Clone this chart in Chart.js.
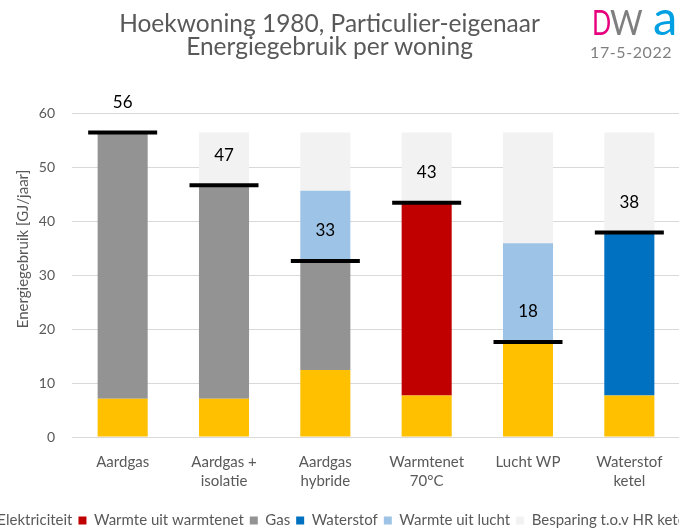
<!DOCTYPE html>
<html>
<head>
<meta charset="utf-8">
<script src="https://cdn.jsdelivr.net/npm/chart.js@4.4.1/dist/chart.umd.min.js"></script>
<style>
  html, body { margin: 0; padding: 0; overflow: hidden; background: #fff; width: 679px; height: 528px; }
  #chart { position: absolute; left: -48px; top: 0; }
  .txt { position: absolute; font-family: Lato, sans-serif; white-space: nowrap; }
  #title { left: 0; width: 659px; top: 11px; text-align: center; font-size: 24.5px; line-height: 23px; color: #595959; }
  #date { left: 590px; top: 44px; font-size: 16px; line-height: 16px; color: #7f7f7f; letter-spacing: 0.6px; }
  #logoD { left: 592px; top: 4px; font-size: 35px; line-height: 35px; color: #e6007e; transform: scaleX(0.72); transform-origin: 0 0; }
  #logoW { left: 610px; top: 4px; font-size: 35px; line-height: 35px; color: #7f7f7f; transform: scaleX(0.9); transform-origin: 0 0; }
  #logoA { left: 653px; top: -8px; font-size: 49px; line-height: 49px; color: #00a0e3; }
</style>
</head>
<body>
<canvas id="chart" width="767" height="538"></canvas>
<div id="title" class="txt">Hoekwoning 1980, Particulier-eigenaar<br>Energiegebruik per woning</div>
<div id="logoD" class="txt">D</div>
<div id="logoW" class="txt">W</div>
<div id="logoA" class="txt">a</div>
<div id="date" class="txt">17-5-2022</div>
<script>
// categorieën en waarden in GJ/jaar
const categories = [['Aardgas'], ['Aardgas +', 'isolatie'], ['Aardgas', 'hybride'], ['Warmtenet', '70°C'], ['Lucht WP'], ['Waterstof', 'ketel']];
const elektriciteit = [7.1, 7.1, 12.4, 7.7, 17.6, 7.7];
const warmtenet = [null, null, null, 35.7, null, null];
const gas = [49.3, 39.5, 20.2, null, null, null];
const waterstof = [null, null, null, null, null, 30.15];
const warmteLucht = [null, null, 13.0, null, 18.3, null];
const besparing = [null, 9.8, 10.8, 13.0, 20.5, 18.55];
const totaal = [56.4, 46.6, 32.6, 43.4, 17.6, 37.85];
const yTicks = [0, 10, 20, 30, 40, 50, 60];

const grijsTekst = '#595959';

// labels met het totaal boven de zwarte streep
const totaalLabels = {
    id: 'totaalLabels',
    afterDatasetsDraw(chart) {
        const meta = chart.getDatasetMeta(0);
        const ctx = chart.ctx;
        ctx.save();
        ctx.font = '17px Lato, sans-serif';
        ctx.fillStyle = '#000';
        ctx.textAlign = 'center';
        ctx.textBaseline = 'middle';
        meta.data.forEach((pt, i) => {
            ctx.fillText(String(Math.round(totaal[i])), pt.x, pt.y - 30);
        });
        ctx.restore();
    }
};

// as-titel (iets boven het midden, zoals in Excel)
const asTitel = {
    id: 'asTitel',
    afterDraw(chart) {
        const ctx = chart.ctx;
        const y = chart.scales.y;
        ctx.save();
        ctx.translate(y.left + 71, 249);
        ctx.rotate(-Math.PI / 2);
        ctx.font = '15px Lato, sans-serif';
        ctx.fillStyle = grijsTekst;
        ctx.textAlign = 'center';
        ctx.textBaseline = 'middle';
        ctx.fillText('Energiegebruik [GJ/jaar]', 0, 0);
        ctx.restore();
    }
};

const ctx = document.getElementById('chart').getContext('2d');
new Chart(ctx, {
    data: {
        labels: categories,
        datasets: [
            {
                type: 'line', label: 'Totaal', data: totaal,
                showLine: false, pointStyle: 'line', pointRadius: 34.5,
                pointBorderWidth: 4, borderColor: '#000', backgroundColor: '#000', order: -1
            },
            { type: 'bar', label: 'Elektriciteit', data: elektriciteit, backgroundColor: '#ffc000' },
            { type: 'bar', label: 'Warmte uit warmtenet', data: warmtenet, backgroundColor: '#c00000' },
            { type: 'bar', label: 'Gas', data: gas, backgroundColor: '#939393' },
            { type: 'bar', label: 'Waterstof', data: waterstof, backgroundColor: '#0070c0' },
            { type: 'bar', label: 'Warmte uit lucht', data: warmteLucht, backgroundColor: '#9dc3e6' },
            { type: 'bar', label: 'Besparing t.o.v HR ketel', data: besparing, backgroundColor: '#f2f2f2' }
        ]
    },
    options: {
        responsive: false,
        animation: false,
        events: [],
        layout: { padding: { top: 113, left: 0, right: 0, bottom: 0 } },
        datasets: {
            bar: { categoryPercentage: 1, barPercentage: 0.494, borderWidth: 0 }
        },
        plugins: {
            title: { display: false },
            tooltip: { enabled: false },
            legend: {
                position: 'bottom',
                labels: {
                    font: { family: 'Lato', size: 15 },
                    color: grijsTekst,
                    boxWidth: 8,
                    boxHeight: 8,
                    padding: 6,
                    filter: item => item.text !== 'Totaal'
                }
            }
        },
        scales: {
            x: {
                stacked: true,
                grid: { display: false },
                border: { display: false },
                ticks: {
                    color: grijsTekst,
                    font: { family: 'Lato', size: 15, lineHeight: 1.3 },
                    padding: 7,
                    maxRotation: 0,
                    autoSkip: false
                },
                afterFit: s => { s.height = 70; }
            },
            y: {
                stacked: true,
                min: 0,
                max: 60,
                grid: { color: '#d9d9d9', lineWidth: 1, drawTicks: false },
                border: { display: false },
                afterBuildTicks: s => { s.ticks = yTicks.map(v => ({ value: v })); },
                ticks: {
                    color: grijsTekst,
                    font: { family: 'Lato', size: 14 },
                    padding: 17
                },
                afterFit: s => { s.width = 120; }
            },
            rechts: {
                type: 'linear',
                position: 'right',
                grid: { display: false },
                border: { display: false },
                ticks: { display: false },
                afterFit: s => { s.width = 39; }
            }
        }
    },
    plugins: [totaalLabels, asTitel]
});
</script>
</body>
</html>
